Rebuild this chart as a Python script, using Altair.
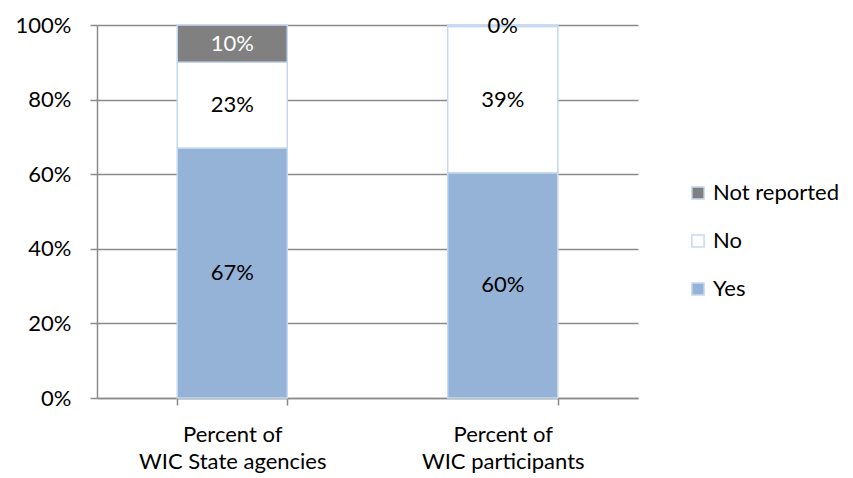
import altair as alt
import pandas as pd

# Survey responses, share of total (percent)
groups = ["Percent of|WIC State agencies", "Percent of|WIC participants"]
responses = ["Yes", "No", "Not reported"]
state_agencies = [67, 23, 10]
participants = [60.4, 39.2, 0.4]

rows = []
for g, vals in zip(groups, [state_agencies, participants]):
    for i, (r, v) in enumerate(zip(responses, vals)):
        rows.append({"group": g, "response": r, "value": v, "ord": i})
df = pd.DataFrame(rows)

legend_order = ["Not reported", "No", "Yes"]
fills = ["#808080", "#FFFFFF", "#95B3D7"]
FONT = "Lato"
FS = 22
LINE = "#8A8A8A"

base = alt.Chart(df).transform_stack(
    stack="value",
    groupby=["group"],
    as_=["lo", "hi"],
    sort=[alt.SortField("ord", order="ascending")],
).transform_calculate(
    mid="(datum.lo + datum.hi) / 2",
    label="format(datum.value, '.0f') + '%'",
)

x_enc = alt.X(
    "group:N",
    sort=groups,
    title=None,
    scale=alt.Scale(paddingInner=0.593, paddingOuter=0.2965),
    axis=alt.Axis(
        labelAngle=0,
        labelExpr="split(datum.label, '|')",
        labelFont=FONT,
        labelFontSize=FS,
        labelColor="#000000",
        labelLineHeight=27,
        labelPadding=19,
        labelLimit=400,
        tickBand="extent",
        tickSize=7,
        tickWidth=1.5,
        tickColor=LINE,
        domainColor=LINE,
        domainWidth=1.5,
        grid=False,
    ),
)

bars = base.mark_bar(stroke="#C6D9F1", strokeWidth=1.5).encode(
    x=x_enc,
    y=alt.Y(
        "lo:Q",
        title=None,
        scale=alt.Scale(domain=[0, 100]),
        axis=alt.Axis(
            values=[0, 20, 40, 60, 80, 100],
            labelExpr="datum.value + '%'",
            labelFont=FONT,
            labelFontSize=FS,
            labelColor="#000000",
            labelPadding=19,
            tickSize=7,
            tickWidth=1.5,
            tickColor=LINE,
            domainColor=LINE,
            domainWidth=1.5,
            gridColor=LINE,
            gridWidth=1.5,
        ),
    ),
    y2="hi:Q",
    fill=alt.Fill(
        "response:N",
        scale=alt.Scale(domain=legend_order, range=fills),
        legend=alt.Legend(
            title=None,
            orient="none",
            legendX=590,
            legendY=157,
            symbolType="square",
            symbolSize=150,
            symbolStrokeColor="#C6D9F1",
            symbolStrokeWidth=1.5,
            labelFont=FONT,
            labelFontSize=FS,
            labelColor="#000000",
            rowPadding=26,
            labelOffset=4,
        ),
    ),
)

labels = base.mark_text(font=FONT, fontSize=FS).encode(
    x=alt.X("group:N", sort=groups),
    y=alt.Y("mid:Q"),
    text="label:N",
    color=alt.condition(
        "datum.response == 'Not reported' && datum.value >= 5",
        alt.value("#FFFFFF"),
        alt.value("#000000"),
    ),
)

chart = (
    alt.layer(bars, labels)
    .properties(
        width=541,
        height=373,
        background="#FFFFFF",
        autosize=alt.AutoSizeParams(type="none"),
        padding={"left": 97, "top": 25, "right": 215, "bottom": 80},
    )
    .configure_view(stroke="transparent", strokeWidth=0)
)

chart.save("out.html", embed_options={"renderer": "svg", "actions": False})
